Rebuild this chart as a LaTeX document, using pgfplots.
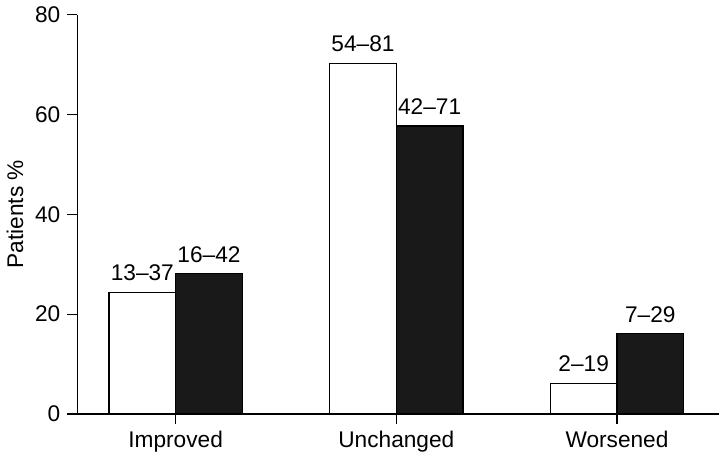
\documentclass[border=0pt]{standalone}
\usepackage{fontspec}
\setmainfont{Liberation Sans}
\usepackage{pgfplots}
\pgfplotsset{compat=1.18}
\begin{document}
\begin{tikzpicture}
\begin{axis}[
    scale only axis,
    width=320pt, height=199pt,
    xmin=-0.445, xmax=2.464,
    ymin=0, ymax=80,
    axis lines*=left,
    axis line style={black, line width=0.6pt},
    ytick={0,20,40,60,80},
    xtick={0,1,2},
    xticklabels={Improved,Unchanged,Worsened},
    tick align=outside,
    major tick length=5pt,
    tick style={black, line width=0.6pt},
    ylabel={Patients \%},
    ylabel style={yshift=-1pt},
    font=\fontsize{11.3}{13}\selectfont,
    /pgf/number format/assume math mode=true,
    ybar,
    bar width=0.302,
    clip=false,
    nodes near coords,
    point meta=explicit symbolic,
    every node near coord/.append style={font=\fontsize{11.3}{13}\selectfont, yshift=2pt, black},
]
  % follow-up group 1 (open bars)
  \addplot[draw=black, fill=white, line width=0.6pt, bar shift=-0.151] coordinates {
    (0,24.4) [13–37]
    (1,70.3) [54–81]
    (2,6.1)  [2–19]
  };
  % follow-up group 2 (filled bars)
  \addplot[draw=black, fill=black!90, line width=0.6pt, bar shift=0.151] coordinates {
    (0,28.1) [16–42]
    (1,57.7) [42–71]
    (2,16.1) [7–29]
  };
  \draw[black, line width=0.6pt] (axis cs:-0.49,0) -- (axis cs:-0.445,0);
\end{axis}
\end{tikzpicture}
\end{document}
